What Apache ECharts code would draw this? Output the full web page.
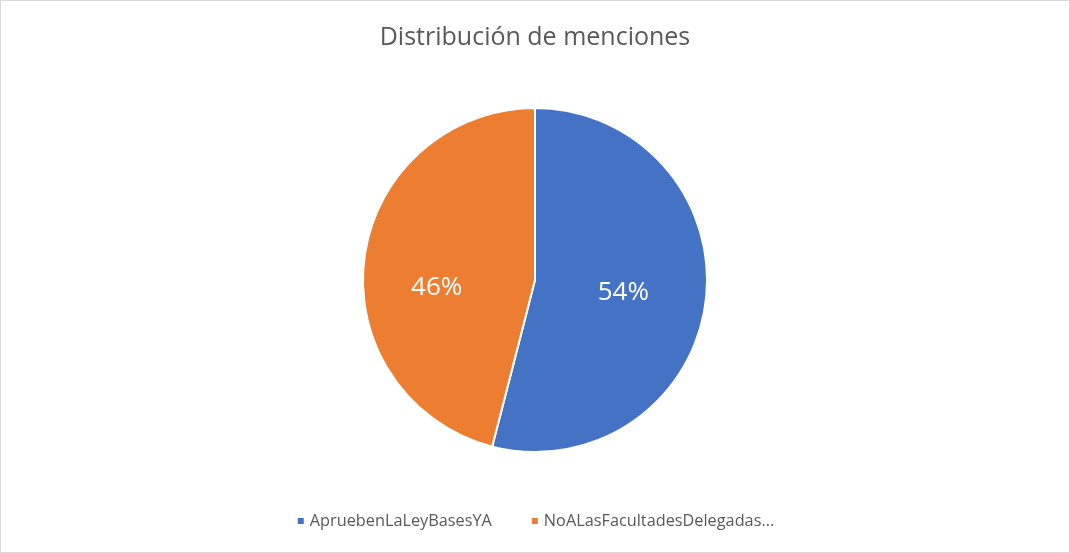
<!DOCTYPE html>
<html>
<head>
<meta charset="utf-8">
<script src="https://cdn.jsdelivr.net/npm/echarts@6/dist/echarts.min.js"></script>
<style>
html,body{margin:0;padding:0;background:#fff;}
#frame{position:absolute;left:0;top:0;width:1068px;height:551px;border:1px solid #d9d9d9;background:#fff;}
#chart{width:1068px;height:551px;}
</style>
</head>
<body>
<div id="frame"><div id="chart"></div></div>
<script>
const categories = ["ApruebenLaLeyBasesYA", "NoALasFacultadesDelegadas..."];
const values = [54, 46];
const colors = ["#4472C4", "#ED7D31"];

const chart = echarts.init(document.getElementById('chart'), null, {renderer: 'canvas'});
chart.setOption({
  animation: false,
  title: {
    text: "Distribución de menciones",
    left: 'center',
    top: 19,
    textStyle: {fontFamily: 'Open Sans', fontSize: 25, fontWeight: 'normal', color: '#595959'}
  },
  legend: {
    bottom: 18,
    left: 'center',
    itemWidth: 8,
    itemHeight: 8,
    itemGap: 38,
    icon: 'rect',
    textStyle: {fontFamily: 'Open Sans', fontSize: 16.3, color: '#595959'},
    data: categories
  },
  series: [{
    type: 'pie',
    center: [534, 279],
    radius: 172,
    startAngle: 90,
    clockwise: true,
    itemStyle: {borderColor: '#fff', borderWidth: 2},
    label: {
      position: 'inside',
      formatter: '{d}%',
      color: '#fff',
      fontFamily: 'Open Sans',
      fontSize: 26
    },
    labelLine: {show: false},
    labelLayout: function (p) {
      return p.dataIndex === 1 ? {dx: -10, dy: 19} : {dx: 0, dy: 1};
    },
    data: categories.map((c, i) => ({name: c, value: values[i], itemStyle: {color: colors[i]}}))
  }]
});
</script>
</body>
</html>
